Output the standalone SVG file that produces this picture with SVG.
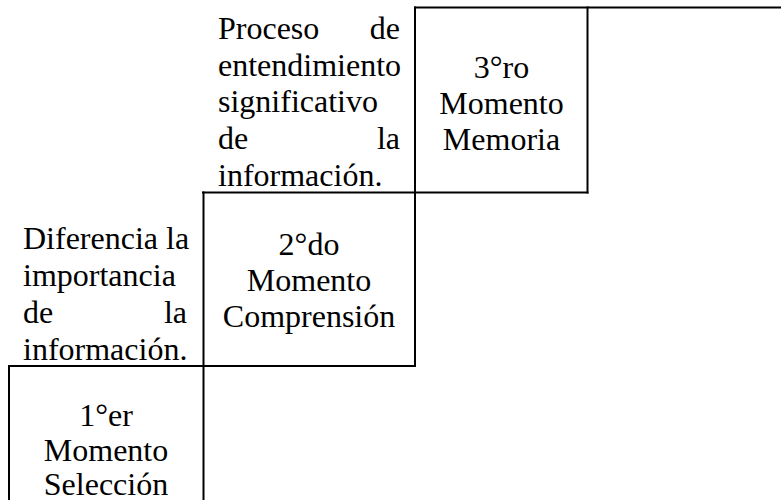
<svg xmlns="http://www.w3.org/2000/svg" width="781" height="500" viewBox="0 0 781 500">
<style>
.ln{stroke:#000;stroke-width:2;fill:none}
.t{font-family:"Liberation Serif","Times New Roman",serif;font-size:32px;fill:#000}
.c{text-anchor:middle}
.e{text-anchor:end}
</style>
<rect width="781" height="500" fill="#fff"/>
<g id="grid">
<line class="ln" x1="414" y1="7.5" x2="781" y2="7.5"/>
<line class="ln" x1="415" y1="6.5" x2="415" y2="367"/>
<line class="ln" x1="587.5" y1="6.5" x2="587.5" y2="193.5"/>
<line class="ln" x1="202" y1="192.5" x2="588.5" y2="192.5"/>
<line class="ln" x1="203.5" y1="191.5" x2="203.5" y2="500"/>
<line class="ln" x1="8" y1="366" x2="416" y2="366"/>
<line class="ln" x1="9" y1="365" x2="9" y2="500"/>
</g>
<g id="momento3">
<text class="t c" x="501.5" y="78">3°ro</text>
<text class="t c" x="501.5" y="114">Momento</text>
<text class="t c" x="501.5" y="150">Memoria</text>
</g>
<g id="desc3">
<text class="t" x="218" y="39">Proceso</text>
<text class="t e" x="400" y="39">de</text>
<text class="t" x="218" y="76">entendimiento</text>
<text class="t" x="218" y="112">significativo</text>
<text class="t" x="218" y="149">de</text>
<text class="t e" x="400" y="149">la</text>
<text class="t" x="218" y="186">información.</text>
</g>
<g id="momento2">
<text class="t c" x="309" y="255">2°do</text>
<text class="t c" x="309" y="291">Momento</text>
<text class="t c" x="309" y="327">Comprensión</text>
</g>
<g id="desc2">
<text class="t" x="23" y="249">Diferencia la</text>
<text class="t" x="23" y="286">importancia</text>
<text class="t" x="23" y="323">de</text>
<text class="t e" x="187" y="323">la</text>
<text class="t" x="23" y="360">información.</text>
</g>
<g id="momento1">
<text class="t c" x="106" y="426">1°er</text>
<text class="t c" x="106" y="461">Momento</text>
<text class="t c" x="106" y="495">Selección</text>
</g>
</svg>
